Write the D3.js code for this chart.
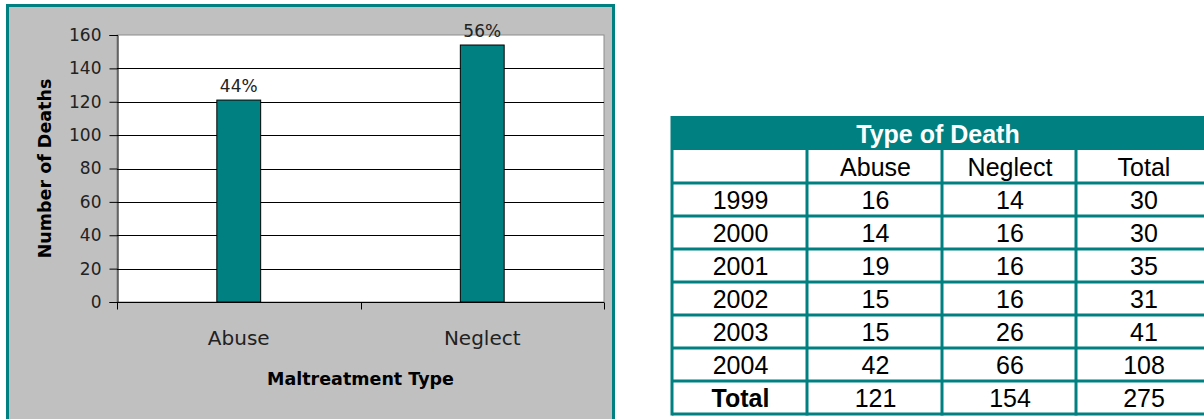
<!DOCTYPE html>
<meta charset="utf-8">
<style>
  body { margin: 0; background: #fff; }
  text { font-family: "DejaVu Sans", sans-serif; }
  .tbl text { font-family: "Liberation Sans", Arial, sans-serif; }
</style>
<script src="https://d3js.org/d3.v7.min.js"></script>
<div id="my_dataviz"></div>
<script>
    // chart data
    var categories = ["Abuse", "Neglect"];
    var deaths = [121, 154];
    var shares = ["44%", "56%"];
    var yTicks = [0, 20, 40, 60, 80, 100, 120, 140, 160];

    // table data
    var years = ["1999", "2000", "2001", "2002", "2003", "2004", "Total"];
    var abuseByYear = [16, 14, 19, 15, 15, 42, 121];
    var neglectByYear = [14, 16, 16, 16, 26, 66, 154];
    var totalByYear = [30, 30, 35, 31, 41, 108, 275];
    var columns = ["", "Abuse", "Neglect", "Total"];

    var teal = "#008080";

    var svg = d3.select("#my_dataviz")
        .append("svg")
        .attr("width", 1204)
        .attr("height", 419);

    // chart panel
    svg.append("rect")
        .attr("x", 7.5).attr("y", 5.5)
        .attr("width", 606).attr("height", 420)
        .attr("fill", "#c0c0c0")
        .attr("stroke", teal)
        .attr("stroke-width", 3);

    var plot = { left: 117, right: 604, top: 35, bottom: 302 };

    var x = d3.scaleBand()
        .domain(categories)
        .range([plot.left, plot.right]);

    var y = d3.scaleLinear()
        .domain([0, 160])
        .range([plot.bottom, plot.top]);

    svg.append("rect")
        .attr("x", plot.left).attr("y", plot.top)
        .attr("width", plot.right - plot.left)
        .attr("height", plot.bottom - plot.top)
        .attr("fill", "#fff")
        .attr("stroke", "#8c8c8c");

    // gridlines
    svg.selectAll(".grid")
        .data(yTicks.filter(function(d) { return d > 0 && d < 160; }))
        .enter().append("line")
        .attr("x1", plot.left).attr("x2", plot.right)
        .attr("y1", function(d) { return Math.round(y(d)) + 0.5; })
        .attr("y2", function(d) { return Math.round(y(d)) + 0.5; })
        .attr("stroke", "#000");

    // Y axis
    var yAxis = svg.append("g")
        .attr("transform", "translate(" + (plot.left + 0.5) + ",0)")
        .call(d3.axisLeft(y).tickValues(yTicks).tickSize(8).tickPadding(8));
    yAxis.select(".domain").attr("stroke", "#000");
    yAxis.selectAll("line").attr("stroke", "#000");
    yAxis.selectAll("text")
        .style("font-size", "17px")
        .attr("fill", "#222");

    // X axis (ticks between categories)
    var xAxisG = svg.append("g")
        .attr("transform", "translate(0," + (plot.bottom + 0.5) + ")");
    xAxisG.append("line")
        .attr("x1", plot.left).attr("x2", plot.right)
        .attr("stroke", "#000");
    var bounds = [plot.left].concat(categories.map(function(c) { return x(c) + x.bandwidth(); }));
    xAxisG.selectAll(".tk")
        .data(bounds)
        .enter().append("line")
        .attr("x1", function(d) { return Math.round(d) + 0.5; })
        .attr("x2", function(d) { return Math.round(d) + 0.5; })
        .attr("y1", 0).attr("y2", 7)
        .attr("stroke", "#000");
    xAxisG.selectAll(".lbl")
        .data(categories)
        .enter().append("text")
        .attr("x", function(d) { return x(d) + x.bandwidth() / 2; })
        .attr("y", 42)
        .attr("text-anchor", "middle")
        .style("font-size", "20px")
        .attr("fill", "#222")
        .text(function(d) { return d; });

    // Bars
    var barW = x.bandwidth() * 0.18;
    svg.selectAll("mybar")
        .data(categories)
        .enter()
        .append("rect")
        .attr("x", function(d) { return x(d) + (x.bandwidth() - barW) / 2; })
        .attr("y", function(d, i) { return y(deaths[i]); })
        .attr("width", barW)
        .attr("height", function(d, i) { return y(0) - y(deaths[i]); })
        .attr("fill", teal)
        .attr("stroke", "#000")
        .attr("stroke-width", 1);

    svg.selectAll(".pct")
        .data(categories)
        .enter().append("text")
        .attr("x", function(d) { return x(d) + x.bandwidth() / 2; })
        .attr("y", function(d, i) { return y(deaths[i]) - 8; })
        .attr("text-anchor", "middle")
        .style("font-size", "17px")
        .attr("fill", "#222")
        .text(function(d, i) { return shares[i]; });

    // axis titles
    svg.append("text")
        .attr("x", (plot.left + plot.right) / 2)
        .attr("y", 385)
        .attr("text-anchor", "middle")
        .style("font-size", "17.5px")
        .style("font-weight", "bold")
        .text("Maltreatment Type");

    svg.append("text")
        .attr("transform", "translate(51," + (plot.top + plot.bottom) / 2 + ") rotate(-90)")
        .attr("text-anchor", "middle")
        .style("font-size", "17.5px")
        .style("font-weight", "bold")
        .text("Number of Deaths");

    // Table
    var tbl = svg.append("g").attr("class", "tbl");
    var colX = [672, 807, 942, 1076, 1210];
    var rowH = 33, headTop = 116, headBottom = 150;

    tbl.append("rect")
        .attr("x", colX[0]).attr("y", headTop)
        .attr("width", colX[4] - colX[0]).attr("height", headBottom - headTop)
        .attr("fill", teal);

    var rows = [columns].concat(years.map(function(yr, i) {
        return [yr, abuseByYear[i], neglectByYear[i], totalByYear[i]];
    }));

    rows.forEach(function(r, ri) {
        var top = headBottom + ri * rowH;
        tbl.selectAll(".c" + ri)
            .data(r)
            .enter().append("text")
            .attr("x", function(d, ci) { return (colX[ci] + colX[ci + 1]) / 2 + 1; })
            .attr("y", top + rowH / 2 + 9)
            .attr("text-anchor", "middle")
            .style("font-size", "25px")
            .style("font-weight", function(d, ci) { return (ri === rows.length - 1 && ci === 0) ? "bold" : "normal"; })
            .attr("fill", "#000")
            .text(function(d) { return d; });
    });

    // table grid lines
    var tableBottom = headBottom + rows.length * rowH;
    d3.range(1, rows.length + 1).forEach(function(k) {
        tbl.append("line")
            .attr("x1", colX[0]).attr("x2", 1204)
            .attr("y1", headBottom + k * rowH).attr("y2", headBottom + k * rowH)
            .attr("stroke", teal).attr("stroke-width", 3);
    });
    colX.slice(0, 4).forEach(function(cx, i) {
        tbl.append("line")
            .attr("x1", cx).attr("x2", cx)
            .attr("y1", i === 0 ? headTop : headBottom).attr("y2", tableBottom + 1.5)
            .attr("stroke", teal).attr("stroke-width", 3);
    });

    tbl.append("text")
        .attr("x", (colX[0] + 1204) / 2)
        .attr("y", headTop + 27)
        .attr("text-anchor", "middle")
        .attr("fill", "#fff")
        .style("font-size", "25px")
        .style("font-weight", "bold")
        .text("Type of Death");
</script>
